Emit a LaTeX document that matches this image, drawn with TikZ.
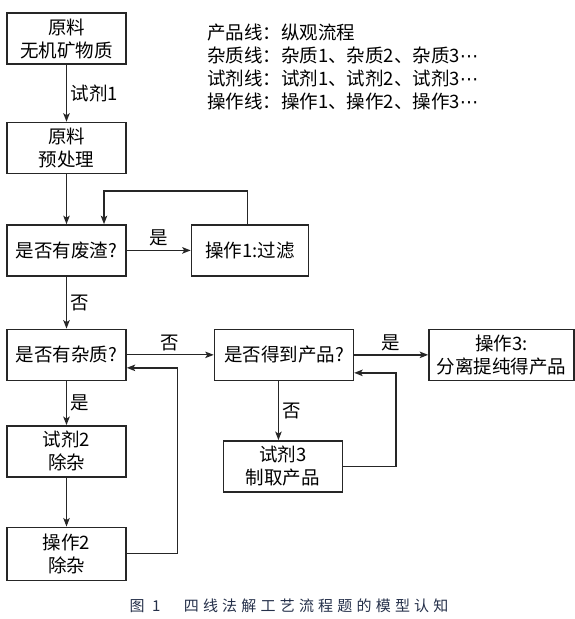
\documentclass[tikz,border=0pt]{standalone}
\usepackage{fontspec}
\setmainfont{Noto Sans CJK SC}
\newfontfamily\capfont[LetterSpace=28]{Noto Sans CJK SC}
\newfontfamily\symfont{DejaVu Sans}
\usetikzlibrary{calc,arrows.meta,positioning}
\definecolor{capblue}{HTML}{25304A}

\begin{document}
\begin{tikzpicture}[x=1pt,y=-1pt,->,>={Stealth[length=8.5pt,width=6.5pt,inset=2pt]},line width=1.45pt,color=black!85,text=black,
  node distance=50pt,font=\fontsize{18.5}{23}\selectfont,
  node/.style={draw,rectangle,minimum width=119pt,minimum height=51pt,align=center,inner sep=2pt},
  thinline/.style={line width=1pt}]
  \useasboundingbox (0,0) rectangle (574,619);

  \node[node] (1) at (66.5,38.5) {原料\\无机矿物质};
  \node[node] (2) [below=57pt of 1] {原料\\预处理};
  \node[node] (3) [below=50pt of 2] {是否有废渣?};
  \node[node, minimum width=117pt] (4) [right=64pt of 3] {操作1:过滤};
  \node[node] (5) [below=52pt of 3] {是否有杂质?};
  \node[node, minimum width=139pt] (6) [right=87pt of 5] {是否得到产品?};
  \node[node, minimum width=145pt] (7) [right=74pt of 6] {操作3:\\分离提纯得产品};
  \node[node] (8) [below=44pt of 5] {试剂2\\除杂};
  \node[node, minimum height=53pt] (9) [below=49pt of 8] {操作2\\除杂};
  \node[node] (10) [below=59pt of 6, xshift=-1pt] {试剂3\\制取产品};

  \node[anchor=west, align=left] (legend) at (203,66.5)
    {产品线：纵观流程\\杂质线：杂质1、杂质2、杂质3{\symfont ⋯}\\试剂线：试剂1、试剂2、试剂3{\symfont ⋯}\\操作线：操作1、操作2、操作3{\symfont ⋯}};

  \path
    (1) edge node[right] {试剂1} (2)
    (2) edge (3)
    (3) edge node[above] {是} (4)
        edge node[right] {否} (5)
    (5) edge[thinline] node[above] {否} (6)
        edge node[right] {是} (8)
    (6) edge node[above] {是} (7)
    (8) edge[thinline] (9)
    ([xshift=-5.5pt]6.south) edge[thinline] node[right] {否} ([xshift=-5.5pt]6.south |- 10.north);

  \draw ([xshift=-2.5pt]4.north) -- ++(0,-33) -| ([xshift=37.5pt]3.north);
  \draw (9.east) -- ++(51,0) |- ([yshift=-13pt]5.east);
  \draw (10.east) -- ++(53,0) |- ([yshift=-18pt]6.east);

  \node[font=\capfont\fontsize{15}{17}\selectfont, text=capblue] (caption) at (289,606) {图 1　四线法解工艺流程题的模型认知};
\end{tikzpicture}
\end{document}
